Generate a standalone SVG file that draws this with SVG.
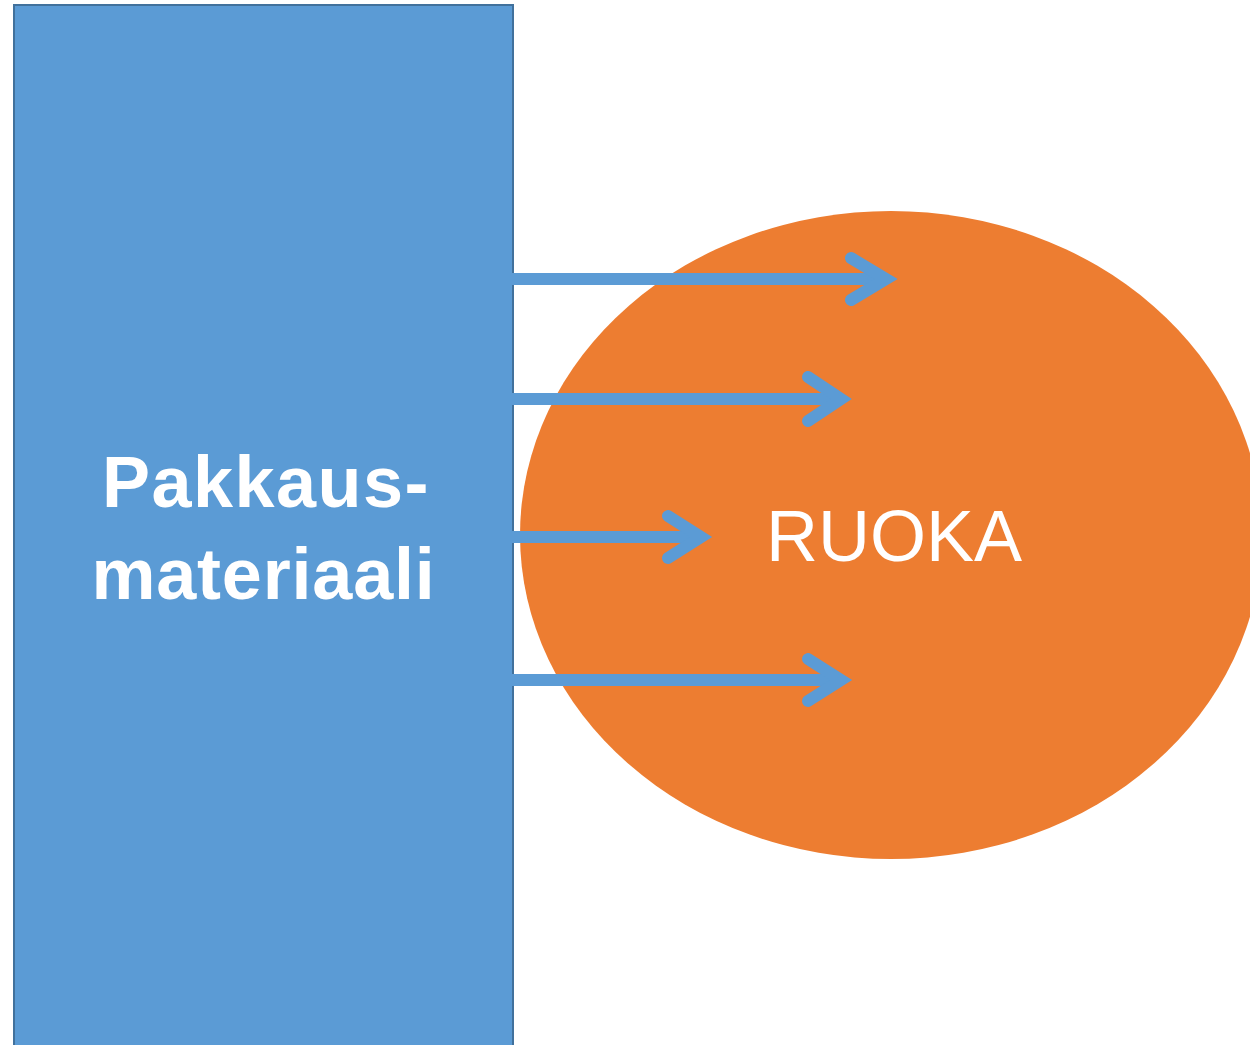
<svg xmlns="http://www.w3.org/2000/svg" width="1250" height="1045" viewBox="0 0 1250 1045">
  <style>
    .arrow { fill: none; stroke: #5B9BD5; stroke-width: 12; stroke-linecap: round; stroke-linejoin: miter; }
    .shaft { stroke: #5B9BD5; stroke-width: 12; }
    .label { font-family: "Liberation Sans", Arial, sans-serif; fill: #FFFFFF; text-anchor: middle; }
  </style>
  <rect width="1250" height="1045" fill="#FFFFFF"/>

  <g id="ruoka">
    <ellipse cx="891" cy="535" rx="371" ry="324" fill="#ED7D31"/>
    <text class="label" x="894" y="561" font-size="72">RUOKA</text>
  </g>

  <g id="pakkausmateriaali">
    <rect x="14" y="5" width="499" height="1050" fill="#5B9BD5" stroke="#41719C" stroke-width="2"/>
    <text class="label" x="266" y="507" font-size="72" font-weight="bold" letter-spacing="1.5">Pakkaus-</text>
    <text class="label" x="263.5" y="599" font-size="72" font-weight="bold" letter-spacing="0.8">materiaali</text>
  </g>

  <g id="connectors">
    <line class="shaft" x1="503" y1="279" x2="884" y2="279"/>
    <polyline class="arrow" points="851,258 886,279 851,300"/>
    <line class="shaft" x1="503" y1="399" x2="839" y2="399"/>
    <polyline class="arrow" points="808,377 841,399 808,421"/>
    <line class="shaft" x1="503" y1="537" x2="699" y2="537"/>
    <polyline class="arrow" points="668,516 701,537 668,558"/>
    <line class="shaft" x1="503" y1="680" x2="839" y2="680"/>
    <polyline class="arrow" points="808,659 841,680 808,701"/>
  </g>
</svg>
